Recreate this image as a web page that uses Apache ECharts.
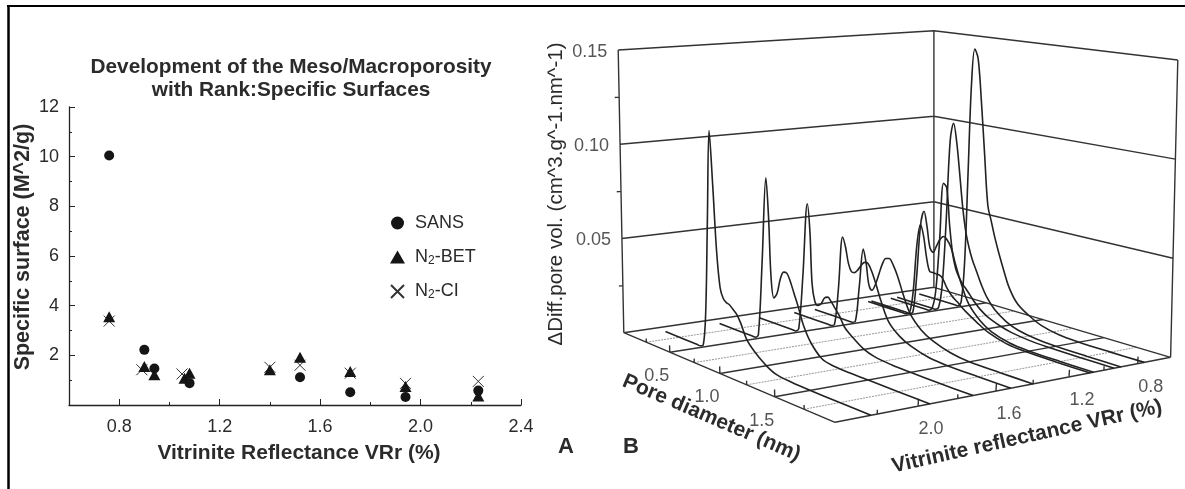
<!DOCTYPE html>
<html>
<head>
<meta charset="utf-8">
<title>Meso/Macroporosity</title>
<script src="https://cdn.jsdelivr.net/npm/echarts@6/dist/echarts.min.js"></script>
<style>
html,body{margin:0;padding:0;background:#fff;}
#main{width:1185px;height:489px;filter:blur(0.35px);}
</style>
</head>
<body>
<div id="main"></div>
<script>
// panel A: specific surface against rank
var sansData = [[0.76,10.05],[0.90,2.22],[0.94,1.47],[1.08,0.88],[1.52,1.12],[1.72,0.51],[1.94,0.32],[2.23,0.58]];
var betData = [[0.76,3.55],[0.90,1.55],[0.94,1.22],[1.06,1.08],[1.08,1.28],[1.40,1.42],[1.52,1.92],[1.72,1.35],[1.94,0.75],[2.23,0.36]];
var ciData = [[0.76,3.38],[0.89,1.42],[1.05,1.25],[1.40,1.52],[1.52,1.6],[1.72,1.28],[1.94,0.87],[2.23,0.95]];
var majorX = [0.8,1.2,1.6,2.0,2.4];
var minorX = [1.0,1.4,1.8,2.2];

// panel B: pore volume curves, one per rank, all on the same diameters
var poreDiameter = [0.10,0.44,0.47,0.50,0.53,0.56,0.59,0.62,0.65,0.68,0.71,0.74,0.77,0.80,0.84,0.88,0.93,1.0,1.1,1.2,1.35,1.5,1.75,2.0];
var curveRank = [2.23,1.94,1.72,1.52,1.40,1.08,1.06,0.94,0.90,0.76];
var vol223 = [0,0,0,.001,.018,.066,.113,.085,.052,.034,.029,.0275,.027,.0255,.0235,.0195,.013,.0085,.004,.0012,.0003,.0001,0,0];
var vol194 = [0,0,0,.002,.04,.085,.065,.034,.024,.027,.035,.039,.039,.036,.03,.024,.0155,.008,.002,.0005,.0002,.0001,0,0];
var vol172 = [0,0,0,.002,.03,.069,.055,.028,.019,.0175,.019,.0225,.0235,.022,.019,.016,.011,.0075,.0035,.0015,.0005,.0002,0,0];
var vol152 = [0,0,0,.001,.02,.049,.044,.036,.032,.032,.034,.037,.039,.039,.035,.029,.021,.012,.0065,.0035,.001,.0002,0,0];
var vol140 = [0,0,0,.001,.02,.041,.034,.023,.0205,.024,.03,.036,.0395,.04,.037,.032,.024,.0145,.008,.0045,.0015,.0002,0,0];
var vol108 = [0,0,0,.001,.012,.04,.051,.045,.034,.027,.0268,.0266,.0264,.025,.0205,.0175,.015,.0115,.0075,.004,.0012,.0003,0,0];
var vol106 = [0,0,0,.001,.02,.05,.058,.05,.039,.037,.041,.045,.047,.046,.042,.034,.025,.015,.008,.004,.0012,.0003,0,0];
var vol094 = [0,0,0,.002,.012,.04,.072,.07,.05,.035,.027,.023,.02,.018,.015,.012,.009,.006,.0035,.0018,.0006,.0002,0,0];
var vol090 = [0,0,0,.002,.015,.05,.095,.105,.095,.078,.06,.047,.039,.033,.027,.021,.015,.0095,.005,.0025,.0008,.0002,0,0];
var vol076 = [0,0,0,.003,.025,.075,.125,.145,.14,.117,.088,.06,.052,.044,.035,.027,.018,.0108,.0062,.003,.0008,.0002,0,0];
var curveVolumes = [vol223,vol194,vol172,vol152,vol140,vol108,vol106,vol094,vol090,vol076];

var volLabels = [0.05,0.10,0.15];
var diamLabels = [0.5,1.0,1.5];
var rankLabels = [2.0,1.6,1.2,0.8];

// picture positions of the box corners, order: left, front, right, back
var floorCorners = [[623.8,332.7],[835,422.3],[1170.6,357.3],[933.9,287.3]];
var topCorners = [[618.2,50],[837,98.6],[1177.8,60],[933.9,30.7]];
var D_MAX = 2, V_MAX = 2.4, V_MIN = 0.6, Z_MAX = 0.15;

function quadMap(q) {
  var x0=q[0][0],y0=q[0][1],x1=q[1][0],y1=q[1][1],x2=q[2][0],y2=q[2][1],x3=q[3][0],y3=q[3][1];
  var dx1=x1-x2,dx2=x3-x2,sx=x0-x1+x2-x3,dy1=y1-y2,dy2=y3-y2,sy=y0-y1+y2-y3;
  var den=dx1*dy2-dx2*dy1;
  var g=(sx*dy2-dx2*sy)/den,h=(dx1*sy-sx*dy1)/den;
  var a=x1-x0+g*x1,b=x3-x0+h*x3,d=y1-y0+g*y1,e=y3-y0+h*y3;
  return function(s,t){
    var w=g*s+h*t+1;
    return [(a*s+b*t+x0)/w,(d*s+e*t+y0)/w];
  };
}
var floorMap = quadMap(floorCorners), topMap = quadMap(topCorners);

// pore diameter, rank, volume -> picture position
function project(d,v,z) {
  var s=d/D_MAX, t=(V_MAX-v)/(V_MAX-V_MIN), k=z/Z_MAX;
  var a=floorMap(s,t), b=topMap(s,t);
  return [a[0]+(b[0]-a[0])*k, a[1]+(b[1]-a[1])*k];
}

function segs(list) {
  var out=[];
  list.forEach(function(s){
    out.push(project(s[0],s[1],s[2]),project(s[3],s[4],s[5]),[null,null]);
  });
  return out;
}

// box frame
var frameSegs = [
  [0,V_MAX,0,D_MAX,V_MAX,0],[D_MAX,V_MAX,0,D_MAX,V_MIN,0],[D_MAX,V_MIN,0,0,V_MIN,0],[0,V_MIN,0,0,V_MAX,0],
  [0,V_MAX,0,0,V_MAX,Z_MAX],[0,V_MIN,0,0,V_MIN,Z_MAX],[D_MAX,V_MIN,0,D_MAX,V_MIN,Z_MAX]
];
volLabels.forEach(function(z){
  frameSegs.push([0,V_MAX,z,0,V_MIN,z],[0,V_MIN,z,D_MAX,V_MIN,z]);
});
[0.025,0.075,0.125].forEach(function(z){ frameSegs.push([0,V_MAX,z,0,V_MAX+0.02,z]); });
// floor lines and ticks
[0.5,1.0,1.5].forEach(function(d){
  frameSegs.push([d,V_MAX,0,d,V_MIN,0],[d,V_MAX,0,d,V_MAX,0.0035]);
});
[0.25,0.75,1.25,1.75].forEach(function(d){ frameSegs.push([d,V_MAX,0,d,V_MAX,0.002]); });
[2.0,1.6,1.2,0.8].forEach(function(v){ frameSegs.push([D_MAX,v,0,D_MAX,v,0.0035]); });
[2.2,1.8,1.4,1.0].forEach(function(v){ frameSegs.push([D_MAX,v,0,D_MAX,v,0.002]); });
var dottedSegs = [0.25,0.75,1.25,1.75].map(function(d){ return [d,V_MAX,0,d,V_MIN,0]; });

var textDark = '#2b2b2b';
var fontName = '"Liberation Sans", Arial, sans-serif';

function labelSeries(points, offset, align) {
  return {
    type:'scatter', xAxisIndex:2, yAxisIndex:1, symbolSize:1, silent:true,
    itemStyle:{color:'rgba(0,0,0,0)'},
    data:points,z:6,
    label:{show:true,position:'inside',offset:offset,align:align||'center',verticalAlign:'middle',
      color:textDark,fontFamily:fontName,fontSize:18,formatter:function(p){return p.data[2];}}
  };
}

var series = [
  {name:'N2-CI',type:'scatter',xAxisIndex:0,yAxisIndex:0,data:ciData,z:3,
    symbol:'path://M0 0L10 10M10 0L0 10',symbolSize:11,
    itemStyle:{color:'rgba(0,0,0,0)',borderColor:'#333',borderWidth:1,opacity:1}},
  {name:'N2-BET',type:'scatter',xAxisIndex:0,yAxisIndex:0,data:betData,z:4,
    symbol:'triangle',symbolSize:[12,11],itemStyle:{color:'#151515',opacity:1}},
  {name:'SANS',type:'scatter',xAxisIndex:0,yAxisIndex:0,data:sansData,z:5,
    symbol:'circle',symbolSize:10,itemStyle:{color:'#151515',opacity:1}},
  {type:'line',xAxisIndex:2,yAxisIndex:1,data:segs(dottedSegs),symbol:'none',silent:true,z:2,
    lineStyle:{color:'#999',width:1,type:[2,1]}},
  {type:'line',xAxisIndex:2,yAxisIndex:1,data:segs(frameSegs),symbol:'none',silent:true,z:3,
    lineStyle:{color:'#333',width:1.4}}
];

curveRank.forEach(function(v,i){
  series.push({
    type:'line',xAxisIndex:2,yAxisIndex:1,symbol:'none',smooth:0.35,silent:true,z:4,
    data:poreDiameter.map(function(d,j){ return project(d,v,curveVolumes[i][j]); }),
    lineStyle:{color:'#222',width:1.6}
  });
});

series.push(labelSeries(volLabels.map(function(z){
  var p=project(0,V_MAX,z); return [p[0],p[1],z.toFixed(2)];
}),[-11,2],'right'));
series.push(labelSeries(diamLabels.map(function(d){
  var p=project(d,V_MAX,0); return [p[0],p[1],d.toFixed(1)];
}),[-13,24]));
series.push(labelSeries(rankLabels.map(function(v){
  var p=project(D_MAX,v,0); return [p[0],p[1],v.toFixed(1)];
}),[13,23]));

var option = {
  animation:false,
  backgroundColor:'#fff',
  textStyle:{fontFamily:fontName},
  title:{
    text:'Development of the Meso/Macroporosity\nwith Rank:Specific Surfaces',
    left:286,top:51,textAlign:'center',
    textStyle:{fontFamily:fontName,fontWeight:'bold',fontSize:20.8,lineHeight:23,color:textDark}
  },
  legend:{
    data:['SANS','N2-BET','N2-CI'],orient:'vertical',left:385,top:209,
    itemWidth:15,itemHeight:13,itemGap:16,
    formatter:function(n){ return n.indexOf('N2')===0 ? 'N{sub|2}'+n.slice(2) : n; },
    textStyle:{fontFamily:fontName,fontSize:18,color:textDark,padding:[0,0,0,5],
      rich:{sub:{fontFamily:fontName,fontSize:12,color:textDark,verticalAlign:'bottom',padding:[7,0,0,0]}}}
  },
  grid:[
    {left:69,top:107,width:452,height:298},
    {left:0,top:0,width:1185,height:489}
  ],
  xAxis:[
    {type:'value',gridIndex:0,min:0.6,max:2.4,position:'bottom',
      name:'Vitrinite Reflectance VRr (%)',nameLocation:'middle',nameGap:38,
      nameTextStyle:{fontFamily:fontName,fontWeight:'bold',fontSize:21,color:textDark,padding:[0,0,0,8]},
      axisLine:{lineStyle:{color:'#222',width:1.3}},
      axisTick:{inside:true,length:6,lineStyle:{color:'#222'},customValues:majorX},
      axisLabel:{customValues:majorX,margin:13,fontSize:18,color:textDark,fontFamily:fontName,
        formatter:function(v){return v.toFixed(1);}},
      splitLine:{show:false}},
    {type:'value',gridIndex:0,min:0.6,max:2.4,position:'bottom',
      axisLine:{show:false},
      axisTick:{inside:true,length:3,lineStyle:{color:'#222'},customValues:minorX},
      axisLabel:{show:false},splitLine:{show:false}},
    {type:'value',gridIndex:1,min:0,max:1185,show:false}
  ],
  yAxis:[
    {type:'value',gridIndex:0,min:0,max:12,interval:2,
      axisLine:{show:true,lineStyle:{color:'#222',width:1.3}},
      axisTick:{show:true,inside:true,length:6,lineStyle:{color:'#222'}},
      minorTick:{show:true,splitNumber:2,length:3,lineStyle:{color:'#222'}},
      axisLabel:{margin:10,fontSize:18,color:textDark,fontFamily:fontName,
        formatter:function(v){return v===0?'':v;}},
      splitLine:{show:false}},
    {type:'value',gridIndex:1,min:0,max:489,inverse:true,show:false}
  ],
  graphic:[
    {type:'line',shape:{x1:8.5,y1:6,x2:8.5,y2:489},style:{stroke:'#000',lineWidth:2.5},silent:true},
    {type:'line',shape:{x1:7,y1:6,x2:1185,y2:6},style:{stroke:'#000',lineWidth:2},silent:true},
    {type:'text',x:23,y:247,rotation:Math.PI/2,style:{text:'Specific surface (M^2/g)',font:'bold 21.5px '+fontName,fill:textDark,textAlign:'center',textVerticalAlign:'middle'},silent:true},
    {type:'text',x:566,y:447,style:{text:'A',font:'bold 22px '+fontName,fill:textDark,textAlign:'center',textVerticalAlign:'middle'},silent:true},
    {type:'text',x:631,y:447,style:{text:'B',font:'bold 22px '+fontName,fill:textDark,textAlign:'center',textVerticalAlign:'middle'},silent:true},
    {type:'text',x:556,y:194,rotation:Math.PI/2,style:{text:'\u0394Diff.pore vol. (cm^3.g^-1.nm^-1)',font:'20.5px '+fontName,fill:textDark,textAlign:'center',textVerticalAlign:'middle'},silent:true},
    {type:'text',x:711.5,y:418,rotation:-23.2*Math.PI/180,style:{text:'Pore diameter (nm)',font:'bold 21px '+fontName,fill:textDark,textAlign:'center',textVerticalAlign:'middle'},silent:true},
    {type:'text',x:1027,y:436.7,rotation:12.6*Math.PI/180,style:{text:'Vitrinite reflectance VRr (%)',font:'bold 21px '+fontName,fill:textDark,textAlign:'center',textVerticalAlign:'middle'},silent:true}
  ],
  series:series
};

var chart = echarts.init(document.getElementById('main'));
chart.setOption(option);
</script>
</body>
</html>
